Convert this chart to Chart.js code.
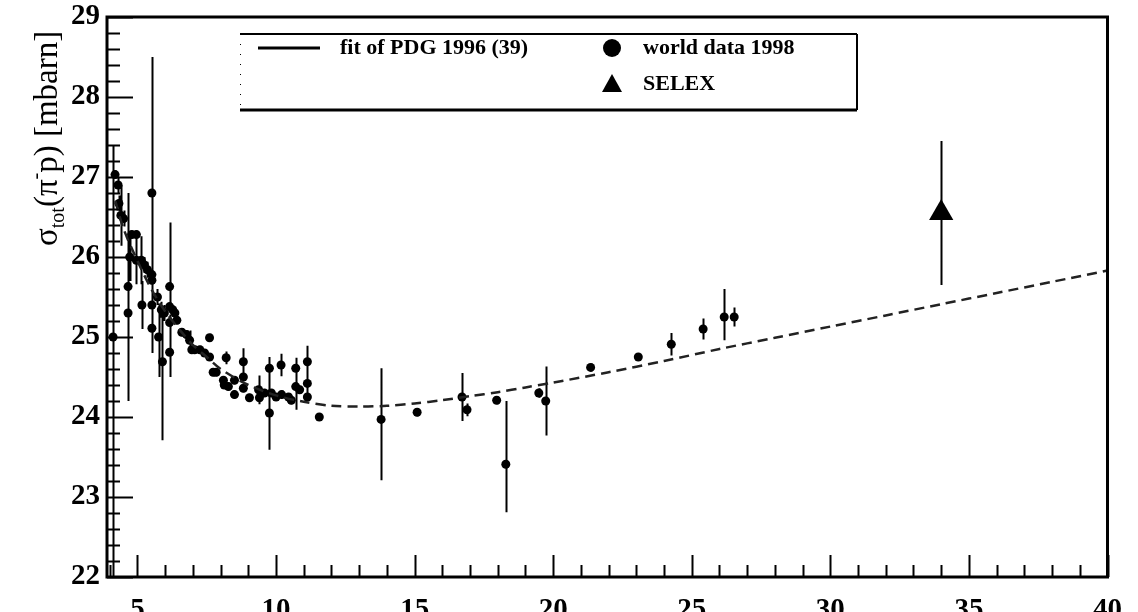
<!DOCTYPE html>
<html>
<head>
<meta charset="utf-8">
<script src="https://cdn.jsdelivr.net/npm/chart.js@4.4.0/dist/chart.umd.min.js"></script>
<style>
  html, body { margin: 0; padding: 0; background: #fff; }
</style>
</head>
<body>
<canvas id="chart" width="1138" height="612"></canvas>
<script>
// world data 1998 (x, sigma, upper / lower error)
const wdX = [4.12, 4.19, 4.30, 4.33, 4.40, 4.50, 4.66, 4.66, 4.79, 4.96, 4.72, 4.96, 5.14, 5.25, 5.36, 5.16,
  5.52, 5.52, 5.52, 5.52, 5.52, 5.72, 5.76, 5.86, 5.97, 5.90, 6.16, 6.16, 6.16, 6.16, 6.27, 6.35, 6.42,
  6.60, 6.77, 6.88, 6.96, 7.06, 7.25, 7.42, 7.60, 7.60, 7.73, 7.84, 8.10, 8.13, 8.28, 8.20, 8.50, 8.50,
  8.82, 8.82, 8.82, 9.04, 9.37, 9.40, 9.58, 9.76, 9.76, 9.83, 10.00, 10.18, 10.20, 10.45, 10.55, 10.71,
  10.71, 10.85, 11.13, 11.13, 11.13, 11.56, 13.79, 15.09, 16.71, 16.89, 17.96, 18.29, 19.48, 19.73,
  21.35, 23.07, 24.26, 25.41, 26.17, 26.53];
const wdY = [25.00, 27.03, 26.90, 26.67, 26.52, 26.48, 25.30, 25.63, 26.28, 26.28, 26.00, 25.96, 25.96, 25.90, 25.84, 25.40,
  26.80, 25.78, 25.71, 25.40, 25.11, 25.50, 25.00, 25.34, 25.30, 24.69, 25.63, 25.38, 25.18, 24.81, 25.34, 25.30, 25.21,
  25.06, 25.03, 24.96, 24.84, 24.84, 24.84, 24.80, 24.99, 24.75, 24.56, 24.56, 24.46, 24.40, 24.38, 24.74, 24.46, 24.28,
  24.69, 24.50, 24.36, 24.24, 24.34, 24.24, 24.30, 24.61, 24.05, 24.30, 24.25, 24.65, 24.28, 24.25, 24.21, 24.61,
  24.38, 24.34, 24.69, 24.42, 24.25, 24.00, 23.97, 24.06, 24.25, 24.09, 24.21, 23.41, 24.30, 24.20,
  24.62, 24.75, 24.91, 25.10, 25.25, 25.25];
const wdErrUp = [2.40, 0.05, 0.10, 0.10, 0.38, 0.10, 1.50, 0.05, 0.05, 0.05, 0.30, 0.30, 0.30, 0.10, 0.10, 0.30,
  1.70, 0.05, 0.05, 0.05, 0.05, 0.10, 0.42, 0.10, 0.10, 0.56, 0.80, 0.05, 0.10, 0.30, 0.05, 0.05, 0.05,
  0.05, 0.05, 0.12, 0.05, 0.05, 0.05, 0.05, 0.05, 0.05, 0.05, 0.05, 0.05, 0.05, 0.05, 0.08, 0.05, 0.05,
  0.17, 0.05, 0.05, 0.05, 0.18, 0.05, 0.05, 0.05, 0.70, 0.05, 0.05, 0.14, 0.05, 0.05, 0.05, 0.13,
  0.05, 0.05, 0.20, 0.05, 0.05, 0.05, 0.64, 0.05, 0.30, 0.08, 0.05, 0.79, 0.06, 0.43,
  0.05, 0.05, 0.14, 0.13, 0.35, 0.12];
const wdErrDown = [3.00, 0.05, 0.10, 0.10, 0.38, 0.10, 1.10, 0.05, 0.05, 0.05, 0.30, 0.30, 0.30, 0.10, 0.10, 0.30,
  2.00, 0.05, 0.05, 0.05, 0.05, 0.10, 0.50, 0.10, 0.10, 0.98, 0.20, 0.05, 0.10, 0.31, 0.05, 0.05, 0.05,
  0.05, 0.05, 0.12, 0.05, 0.05, 0.05, 0.05, 0.05, 0.05, 0.05, 0.05, 0.05, 0.05, 0.05, 0.08, 0.05, 0.05,
  0.17, 0.05, 0.05, 0.05, 0.18, 0.05, 0.05, 0.05, 0.46, 0.05, 0.05, 0.14, 0.05, 0.05, 0.05, 0.52,
  0.05, 0.05, 0.45, 0.05, 0.05, 0.05, 0.76, 0.05, 0.30, 0.08, 0.05, 0.60, 0.06, 0.43,
  0.05, 0.05, 0.14, 0.13, 0.29, 0.12];

// SELEX
const selexX = [34.0];
const selexY = [26.55];
const selexErr = [0.9];

// fit of PDG 1996
const fitX = [4.2, 4.5, 5, 5.5, 6, 6.5, 7, 7.5, 8, 9, 10, 11, 12, 13, 14, 15, 16, 17, 18, 19, 20,
  22, 24, 26, 28, 30, 32, 34, 36, 38, 40];
const fitY = [26.7, 26.35, 25.95, 25.6, 25.32, 25.1, 24.9, 24.75, 24.6, 24.4, 24.27, 24.19, 24.14, 24.13,
  24.14, 24.17, 24.21, 24.26, 24.31, 24.37, 24.43, 24.56, 24.7, 24.85, 24.99, 25.13, 25.27, 25.41,
  25.55, 25.69, 25.83];

const xTicks = [5, 10, 15, 20, 25, 30, 35, 40];
const yTicks = [22, 23, 24, 25, 26, 27, 28, 29];

const tickFont = { family: 'Liberation Serif', size: 29, weight: 'bold' };

const errorBars = {
  id: 'errorBars',
  beforeDatasetsDraw(chart) {
    const { ctx, chartArea: a, scales: { x, y } } = chart;
    ctx.save();
    ctx.beginPath();
    ctx.rect(a.left, a.top, a.right - a.left, a.bottom - a.top);
    ctx.clip();
    ctx.strokeStyle = '#000';
    ctx.lineWidth = 2;
    ctx.beginPath();
    wdX.forEach((v, i) => {
      const px = Math.round(x.getPixelForValue(v)) + 0.5;
      ctx.moveTo(px, y.getPixelForValue(wdY[i] + wdErrUp[i]));
      ctx.lineTo(px, y.getPixelForValue(wdY[i] - wdErrDown[i]));
    });
    selexX.forEach((v, i) => {
      const px = Math.round(x.getPixelForValue(v)) + 0.5;
      ctx.moveTo(px, y.getPixelForValue(selexY[i] + selexErr[i]));
      ctx.lineTo(px, y.getPixelForValue(selexY[i] - selexErr[i]));
    });
    ctx.stroke();
    ctx.restore();
  }
};

const frame = {
  id: 'frame',
  afterDatasetsDraw(chart) {
    const { ctx, chartArea: a, scales: { x, y } } = chart;
    ctx.save();
    ctx.strokeStyle = '#000';
    ctx.lineWidth = 2;
    ctx.beginPath();
    for (let k = 0; k <= 35; k++) {
      const v = 22 + k * 0.2;
      const py = Math.round(y.getPixelForValue(v)) + 0.5;
      ctx.moveTo(a.left, py);
      ctx.lineTo(a.left + (k % 5 === 0 ? 26 : 13), py);
    }
    for (let v = 4; v <= 40; v++) {
      const px = Math.round(x.getPixelForValue(v)) + 0.5;
      ctx.moveTo(px, a.bottom);
      ctx.lineTo(px, a.bottom - (v % 5 === 0 ? 22 : 12));
    }
    ctx.stroke();
    ctx.lineWidth = 3;
    ctx.strokeRect(a.left, a.top, a.right - a.left, a.bottom - a.top);
    ctx.restore();
  },
  afterDraw(chart) {
    const { ctx } = chart;
    ctx.save();
    ctx.fillStyle = '#000';
    // y axis title, rotated
    ctx.translate(57, 246);
    ctx.rotate(-Math.PI / 2);
    ctx.textBaseline = 'alphabetic';
    let cx = 0;
    const put = (t, size, dy) => {
      ctx.font = size + 'px "Liberation Serif"';
      ctx.fillText(t, cx, dy);
      cx += ctx.measureText(t).width;
    };
    put('\u03C3', 33, 0);
    put('tot', 20, 7);
    put('(\u03C0', 33, 0);
    put('-', 20, -15);
    put('p) [mbarn]', 33, 0);
    ctx.restore();

    // legend box
    ctx.save();
    ctx.strokeStyle = '#000';
    ctx.lineWidth = 2;
    ctx.beginPath();
    ctx.moveTo(240, 34); ctx.lineTo(857, 34);
    ctx.moveTo(857, 34); ctx.lineTo(857, 110);
    ctx.stroke();
    ctx.lineWidth = 3;
    ctx.beginPath();
    ctx.moveTo(240, 110); ctx.lineTo(857, 110);
    ctx.stroke();
    ctx.lineWidth = 1;
    ctx.setLineDash([1, 9]);
    ctx.beginPath();
    ctx.moveTo(240.5, 34); ctx.lineTo(240.5, 110);
    ctx.stroke();
    ctx.setLineDash([]);
    ctx.lineWidth = 3;
    ctx.beginPath();
    ctx.moveTo(258, 48); ctx.lineTo(320, 48);
    ctx.stroke();
    ctx.fillStyle = '#000';
    ctx.beginPath();
    ctx.arc(612, 48, 9, 0, Math.PI * 2);
    ctx.fill();
    ctx.beginPath();
    ctx.moveTo(612, 74); ctx.lineTo(622, 92); ctx.lineTo(602, 92);
    ctx.closePath();
    ctx.fill();
    ctx.font = 'bold 22px "Liberation Serif"';
    ctx.textBaseline = 'middle';
    ctx.fillText('fit of PDG 1996 (39)', 340, 48);
    ctx.fillText('world data 1998', 643, 48);
    ctx.fillText('SELEX', 643, 84);
    ctx.restore();
  }
};

new Chart(document.getElementById('chart'), {
  data: {
    datasets: [
      {
        type: 'line',
        label: 'fit of PDG 1996 (39)',
        data: fitX.map((v, i) => ({ x: v, y: fitY[i] })),
        borderColor: '#222',
        borderWidth: 2.5,
        borderDash: [10, 6],
        pointRadius: 0,
        tension: 0.3,
        fill: false
      },
      {
        type: 'scatter',
        label: 'world data 1998',
        data: wdX.map((v, i) => ({ x: v, y: wdY[i] })),
        backgroundColor: '#000',
        borderColor: '#000',
        pointStyle: 'circle',
        pointRadius: 4.5,
        borderWidth: 0
      },
      {
        type: 'scatter',
        label: 'SELEX',
        data: selexX.map((v, i) => ({ x: v, y: selexY[i] })),
        backgroundColor: '#000',
        borderColor: '#000',
        pointStyle: 'triangle',
        pointRadius: 14,
        borderWidth: 0
      }
    ]
  },
  options: {
    responsive: false,
    animation: false,
    layout: { padding: { top: 17, right: 28, left: 0, bottom: 0 } },
    plugins: {
      legend: { display: false },
      tooltip: { enabled: false }
    },
    scales: {
      x: {
        type: 'linear',
        min: 3.9,
        max: 40,
        grid: { display: false, drawTicks: false },
        border: { display: false },
        afterBuildTicks: s => { s.ticks = xTicks.map(v => ({ value: v })); },
        afterFit: s => { s.height = 35; },
        ticks: { padding: 16, color: '#000', font: tickFont, maxRotation: 0, autoSkip: false }
      },
      y: {
        type: 'linear',
        min: 22,
        max: 29,
        grid: { display: false, drawTicks: false },
        border: { display: false },
        afterBuildTicks: s => { s.ticks = yTicks.map(v => ({ value: v })); },
        afterFit: s => { s.width = 107; s.paddingTop = 0; s.paddingBottom = 0; },
        ticks: { padding: 7, color: '#000', font: tickFont, autoSkip: false }
      }
    }
  },
  plugins: [errorBars, frame]
});
</script>
</body>
</html>
